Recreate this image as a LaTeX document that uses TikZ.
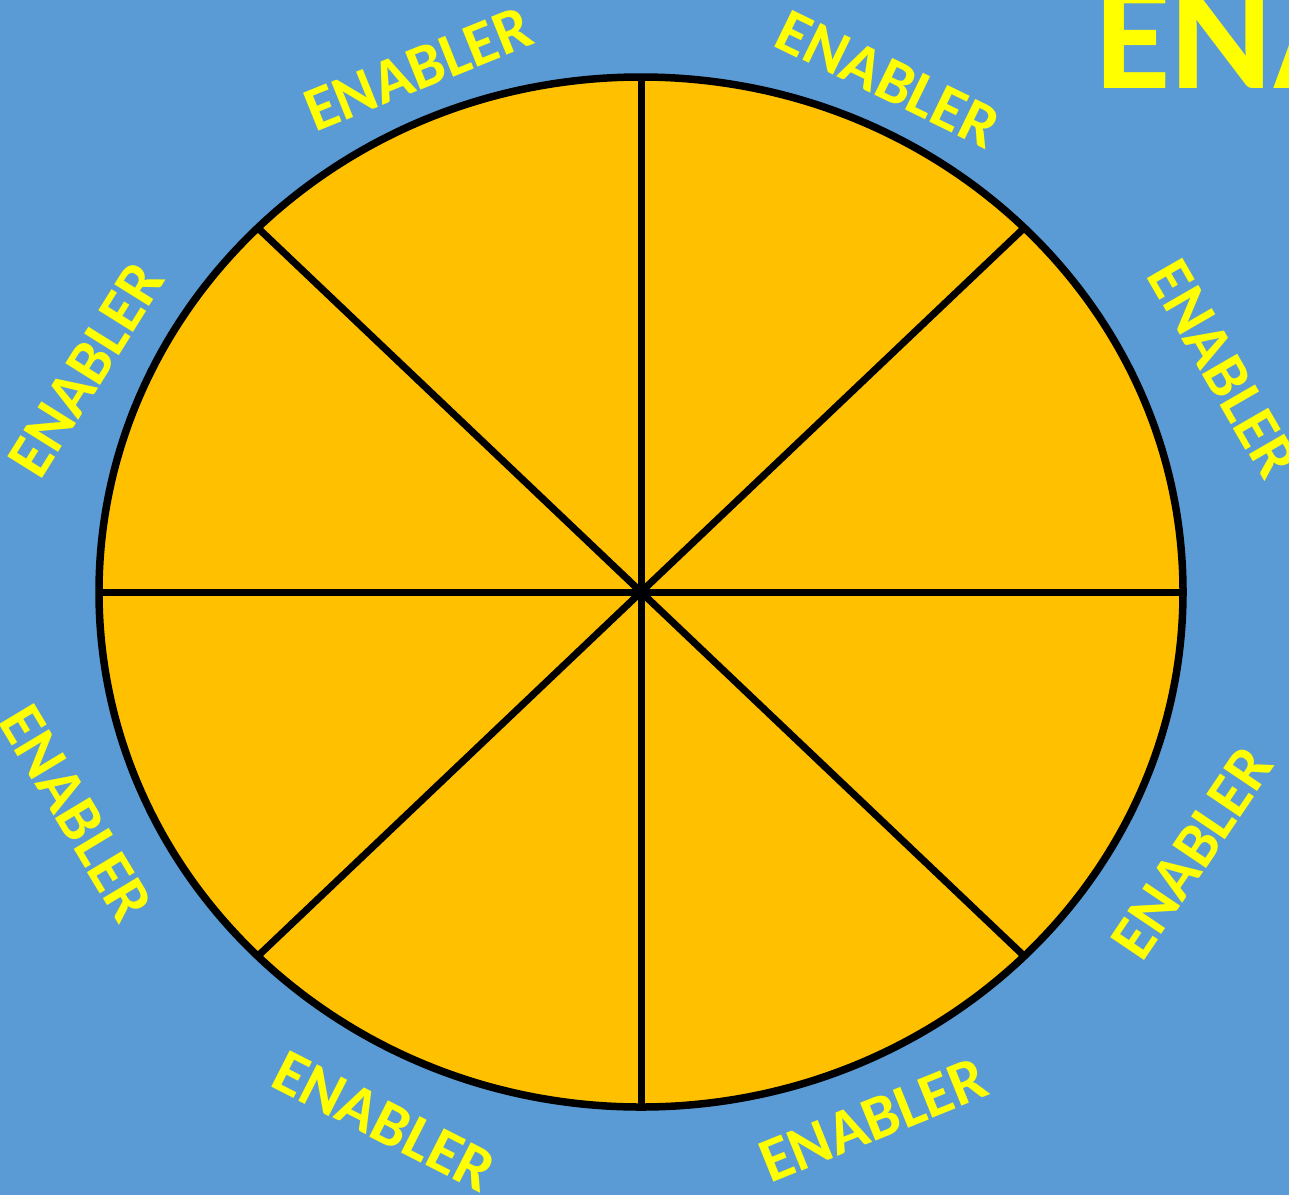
\documentclass[tikz,border=0pt]{standalone}
\usepackage{fontspec}
\setmainfont{Carlito}
\usepackage{tikz}
\usetikzlibrary{calc}
\definecolor{SkyB}   {RGB}{91, 155, 213}
\definecolor{AmberF} {RGB}{255,192,  0}
\definecolor{YellowT}{RGB}{255,255,  0}
\begin{document}
\begin{tikzpicture}[x=1pt,y=-1pt,
    enabler/.style={text=YellowT,font=\fontsize{63}{63}\selectfont\bfseries,inner sep=0pt},
    spoke/.style={black,line width=7pt}]
        \useasboundingbox (0,0) rectangle (1289,1195);
        \fill[SkyB] (0,0) rectangle (1289,1195);
        \coordinate (hub) at (641,592);
        \filldraw[fill=AmberF,draw=black,line width=7.5pt] (hub) ellipse [x radius=542,y radius=515];
        \foreach \ang in {0,45,...,315}{
          \draw[spoke] (hub) -- ($(hub)+(\ang:542 and 515)$);
        }
        \foreach \x/\y/\a [count=\i] in {418/69/22, 888/79/-26, 1223/369/-60, 1192/853/56,
                                        873/1120/22, 384/1121/-27, 76/813/-59, 86/370/58}{
          \node[enabler,rotate=\a] (lab\i) at (\x,\y) {ENABLER};
        }
        \node[text=YellowT,font=\fontsize{155}{155}\selectfont\bfseries,anchor=base west,inner sep=0pt]
          (title) at (1095,88) {ENA};
      \end{tikzpicture}
\end{document}
